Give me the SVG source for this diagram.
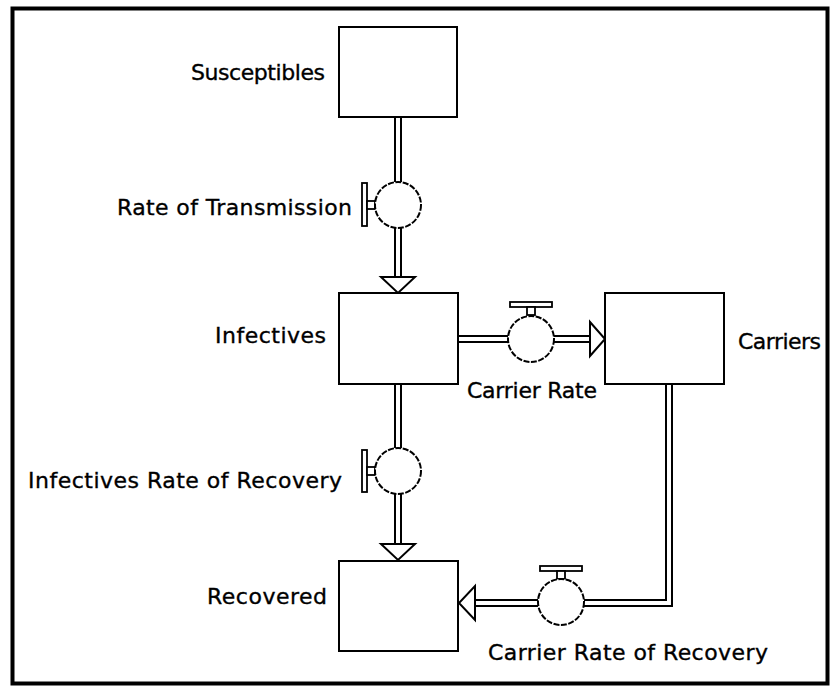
<svg xmlns="http://www.w3.org/2000/svg" width="834" height="687" viewBox="0 0 834 687">
<style>
  .frame { fill: #ffffff; stroke: #000000; stroke-width: 4; }
  .stock { fill: #ffffff; stroke: #000000; stroke-width: 2; }
  .pipe-o { fill: none; stroke: #000000; stroke-width: 8; stroke-linejoin: miter; stroke-linecap: butt; }
  .pipe-i { fill: none; stroke: #ffffff; stroke-width: 4; stroke-linejoin: miter; stroke-linecap: butt; }
  .head { fill: #ffffff; stroke: #000000; stroke-width: 2; stroke-linejoin: miter; }
  .valve { fill: #ffffff; stroke: #000000; stroke-width: 2; stroke-dasharray: 6 1.5; }
  .handle { fill: #ffffff; stroke: #000000; stroke-width: 1.8; }
  .lbl { font-family: "DejaVu Sans", "Liberation Sans", sans-serif; font-size: 22px; fill: #000000; stroke: #000000; stroke-width: 0.35; }
</style>
<rect class="frame" x="12.5" y="8.5" width="815" height="675"/>

<g id="connectors">
  <path class="pipe-o" d="M398,118 V182 M398,228 V278 M398,384 V448 M398,494 V545 M458,339 H508 M553,339 H591 M669,384 V603 H584 M538,603 H476"/>
  <path class="pipe-i" d="M398,117 V183 M398,227 V279 M398,383 V449 M398,493 V546 M457,339 H509 M552,339 H592 M669,383 V603 H583 M539,603 H475"/>
  <polygon class="head" points="381,277 415,277 398,293"/>
  <polygon class="head" points="381,544 415,544 398,560"/>
  <polygon class="head" points="590,322 590,356 605,339"/>
  <polygon class="head" points="475,586 475,620 459,603"/>
</g>

<g id="susceptibles">
  <rect class="stock" x="339" y="27" width="118" height="90"/>
  <text class="lbl" x="191" y="80" textLength="134" lengthAdjust="spacing">Susceptibles</text>
</g>
<g id="infectives">
  <rect class="stock" x="339" y="293" width="119" height="91"/>
  <text class="lbl" x="215" y="343" textLength="111" lengthAdjust="spacing">Infectives</text>
</g>
<g id="carriers">
  <rect class="stock" x="605" y="293" width="119" height="91"/>
  <text class="lbl" x="738" y="349" textLength="83" lengthAdjust="spacing">Carriers</text>
</g>
<g id="recovered">
  <rect class="stock" x="339" y="561" width="119" height="90"/>
  <text class="lbl" x="207" y="604" textLength="120" lengthAdjust="spacing">Recovered</text>
</g>

<g id="rate-of-transmission">
  <rect class="handle" x="362" y="183" width="5" height="43"/>
  <rect class="handle" x="367" y="201" width="8" height="8"/>
  <circle class="valve" cx="398" cy="205" r="23"/>
  <text class="lbl" x="117" y="215" textLength="235" lengthAdjust="spacing">Rate of Transmission</text>
</g>
<g id="infectives-rate-of-recovery">
  <rect class="handle" x="362" y="450" width="5" height="42"/>
  <rect class="handle" x="367" y="467" width="8" height="8"/>
  <circle class="valve" cx="398" cy="471" r="23"/>
  <text class="lbl" x="28" y="488" textLength="314" lengthAdjust="spacing">Infectives Rate of Recovery</text>
</g>
<g id="carrier-rate">
  <rect class="handle" x="510" y="302" width="42" height="5"/>
  <rect class="handle" x="527" y="307" width="8" height="8"/>
  <circle class="valve" cx="531" cy="339" r="23"/>
  <text class="lbl" x="467" y="398" textLength="130" lengthAdjust="spacing">Carrier Rate</text>
</g>
<g id="carrier-rate-of-recovery">
  <rect class="handle" x="540" y="566" width="42" height="5"/>
  <rect class="handle" x="557" y="571" width="8" height="8"/>
  <circle class="valve" cx="561" cy="602" r="23"/>
  <text class="lbl" x="488" y="660" textLength="280" lengthAdjust="spacing">Carrier Rate of Recovery</text>
</g>
</svg>
